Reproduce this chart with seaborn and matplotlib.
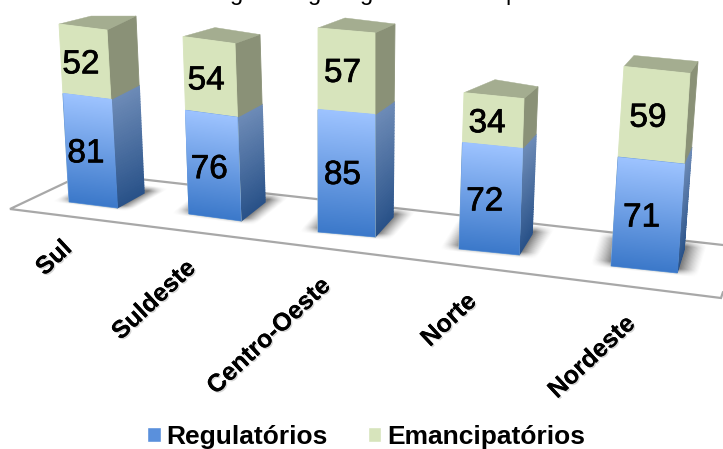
import numpy as np
import pandas as pd
import matplotlib
matplotlib.use("Agg")
import matplotlib.pyplot as plt
from matplotlib.patches import Polygon, Patch
from matplotlib.transforms import Affine2D
from matplotlib.colors import to_rgb
import matplotlib.patheffects as pe
import seaborn as sns

regioes = ["Sul", "Suldeste", "Centro-Oeste", "Norte", "Nordeste"]
regulatorios = [81, 76, 85, 72, 71]
emancipatorios = [52, 54, 57, 34, 59]

# ---- pseudo-3D projection of each bar (pixels) ----
origin = [(69, 202), (189, 214), (318, 232), (459, 249), (611, 266)]
width_vec = [(48, 6), (52, 7), (57, 5), (60, 6), (66, 7)]
up_vec = [(-10/133, -1.338), (-6/130, -1.365), (0, -1.437), (5/106, -1.475), (13/130, -1.535)]
depth_bottom = [(27, -15), (24, -19), (18, -20), (13, -21), (7, -23)]
depth_top = [(29, -14), (25, -9), (20, -9), (14, -12), (8, -12)]
top_back_left = [(32, -8), (32, -9), (27, -10), (31, -13), (10, -11)]
label_pos = [(54, 258), (154, 300), (269, 336), (449, 320), (592, 357)]
value_shift = [(-4, 3), (-4, 4), (-4, 2), (-6, 3), (-6, 3)]
BAR_W = 0.8
W, H = 723, 449

sns.set_style("white")
plt.rcParams["font.family"] = ["Liberation Sans", "DejaVu Sans"]

fig = plt.figure(figsize=(W/100, H/100), dpi=100)
ax = fig.add_axes([0, 0, 1, 1])
px = Affine2D().scale(1, -1).translate(0, H)   # pixels, y downwards -> display

totais = [a + b for a, b in zip(regulatorios, emancipatorios)]
df = pd.DataFrame({"regiao": regioes, "reg": regulatorios, "total": totais})
sns.barplot(data=df, x="regiao", y="total", color="#D7E4BC", saturation=1, width=BAR_W, ax=ax, zorder=4)
sns.barplot(data=df, x="regiao", y="reg", color="#6B9BE0", saturation=1, width=BAR_W, ax=ax, zorder=5)
ax.axis("off")
green_bars, blue_bars = ax.containers[0], ax.containers[1]


def face(o, a, b, x0, x1):
    """Maps (x in [x0,x1], value) to pixels: o + a*(x-x0)/(x1-x0) + b*value."""
    s = x1 - x0
    return Affine2D(np.array([[a[0]/s, b[0], o[0] - a[0]*x0/s],
                              [a[1]/s, b[1], o[1] - a[1]*x0/s],
                              [0, 0, 1]])) + px


def gradient(c_bottom, c_top, n=64):
    c0, c1 = np.array(to_rgb(c_bottom)), np.array(to_rgb(c_top))
    t = np.linspace(0, 1, n)[:, None, None]
    rgb = (1 - t) * c0[None, None, :] + t * c1[None, None, :]
    return np.dstack([rgb, np.ones((n, 1))])


# floor
ax.plot([723, 721, 10, 86, 723], [292, 298, 209, 173, 245], color="#A8A8A8", lw=1.6,
        transform=px, zorder=1, solid_joinstyle="miter")

# soft shadow alpha map on the floor
ur = (-0.32, 1.32)
vr = (-0.14, 1.42)
uu, vv = np.meshgrid(np.linspace(*ur, 90), np.linspace(*vr, 90))
au = np.clip(np.minimum(uu - ur[0], ur[1] - uu) / 0.3, 0, 1)
av = np.clip(np.minimum(vv - vr[0], vr[1] - vv) / 0.3, 0, 1)
shadow = np.zeros(uu.shape + (4,))
shadow[..., :3] = 0.15
shadow[..., 3] = 0.6 * (au * av) ** 1.3

for i, region in enumerate(regioes):
    o, w, u = origin[i], width_vec[i], up_vec[i]
    db, dt, bl = depth_bottom[i], depth_top[i], top_back_left[i]
    x0, x1 = i - BAR_W/2, i + BAR_W/2
    T = face(o, w, u, x0, x1)
    reg, tot = regulatorios[i], totais[i]

    # shadow
    im = ax.imshow(shadow, extent=(*ur, *vr), origin="lower", aspect="auto", zorder=2)
    im.set_transform(Affine2D(np.array([[w[0], db[0], o[0]], [w[1], db[1], o[1]], [0, 0, 1]])) + px)

    # front faces
    for bar, col in ((green_bars[i], "#D7E4BC"), (blue_bars[i], "#6B9BE0")):
        bar.set_transform(T)
        bar.set_edgecolor(col)
        bar.set_linewidth(0.6)
    im = ax.imshow(gradient("#3C79CA", "#9DC3FF"), extent=(x0, x1, 0, reg),
                   origin="lower", aspect="auto", zorder=6)
    im.set_transform(T)

    # side faces: depth changes with height, because of the perspective
    def side_pts(val):
        f = val / tot
        fx, fy = o[0] + w[0] + u[0]*val, o[1] + w[1] + u[1]*val
        return (fx, fy), (fx + db[0] + (dt[0]-db[0])*f, fy + db[1] + (dt[1]-db[1])*f)

    steps = np.linspace(0, reg, 41)
    c0, c1 = np.array(to_rgb("#295289")), np.array(to_rgb("#6C8AB6"))
    for k in range(40):
        a1, a2 = side_pts(steps[k])
        b1, b2 = side_pts(steps[k+1])
        col = c0 + (c1 - c0) * k / 39
        ax.add_patch(Polygon([a1, a2, b2, b1], closed=True, facecolor=col, edgecolor=col, lw=1.0,
                             transform=px, zorder=3))
    a1, a2 = side_pts(reg)
    b1, b2 = side_pts(tot)
    ax.add_patch(Polygon([a1, a2, b2, b1], closed=True, facecolor="#8A9177", edgecolor="#8A9177",
                         lw=0.6, transform=px, zorder=3))

    # top face
    tl = (o[0] + u[0]*tot, o[1] + u[1]*tot)
    ax.add_patch(Polygon([tl, b1, b2, (tl[0] + bl[0], tl[1] + bl[1])], closed=True,
                         facecolor="#A4AD90", edgecolor="#A4AD90", lw=0.3, transform=px, zorder=3))

    # data labels
    bold = [pe.withStroke(linewidth=0.5, foreground="black")]
    Tv = T + Affine2D().translate(value_shift[i][0], -value_shift[i][1])
    ax.text(i, reg/2, str(reg), transform=Tv, ha="center", va="center",
            fontsize=24, color="black", zorder=8, path_effects=bold)
    ax.text(i, reg + emancipatorios[i]/2, str(emancipatorios[i]), transform=Tv,
            ha="center", va="center", fontsize=24, color="black", zorder=8, path_effects=bold)

    # category labels
    lx, ly = label_pos[i]
    ax.text(lx, ly, region, transform=px, ha="center", va="center", rotation=43,
            rotation_mode="anchor", fontsize=18, fontweight="bold", color="black", zorder=8,
            path_effects=[pe.withSimplePatchShadow(offset=(1, -1), shadow_rgbFace="#999999", alpha=0.4),
                          pe.Normal()])

ax.set_xlim(-0.5, 4.5)
ax.set_ylim(0, 150)

# title, cut by the top edge of the picture: only descenders are visible
for gx, ch in zip([237, 315, 367, 512], "gggp"):
    ax.text(gx, 0, ch, transform=px, ha="center", va="baseline", fontsize=17, color="black")

handles = [Patch(facecolor="#5A90DC", label="Regulatórios"),
           Patch(facecolor="#D7E4BC", label="Emancipatórios")]
leg = fig.legend(handles=handles, loc="lower left", bbox_to_anchor=(142/W, -5/H), ncols=2, frameon=False,
                 prop={"weight": "bold", "size": 19}, handlelength=0.53, handleheight=0.53,
                 handletextpad=0.2, columnspacing=1.5, borderpad=0.2, borderaxespad=0,
                 labelcolor="black")

fig.savefig("out.png", dpi=100)
